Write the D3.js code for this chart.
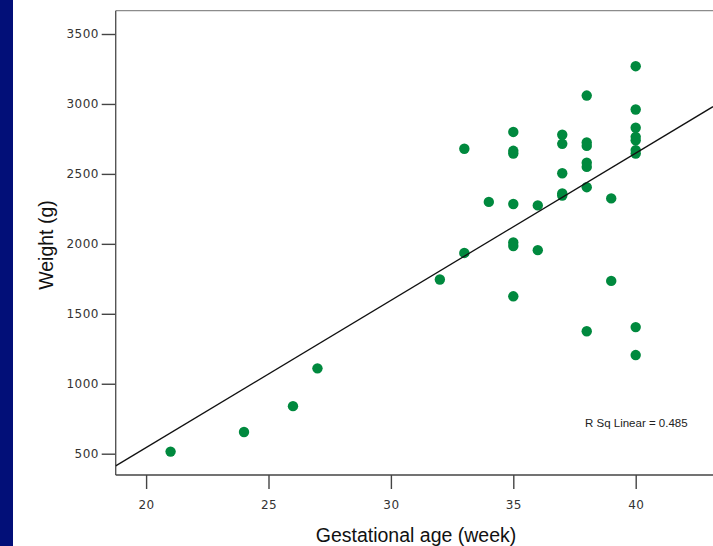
<!DOCTYPE html>
<html>
<head>
<meta charset="utf-8">
<script src="https://cdn.jsdelivr.net/npm/d3@7"></script>
<style>
  html, body { margin: 0; padding: 0; background: #ffffff; }
  svg { display: block; }
</style>
</head>
<body>
<svg id="chart" width="713" height="546"></svg>
<script>
// Data
const gestationalWeeks = [21, 24, 26, 27, 32, 33, 33, 34,
  35, 35, 35, 35, 35, 35, 35,
  36, 36,
  37, 37, 37, 37, 37,
  38, 38, 38, 38, 38, 38, 38,
  39, 39,
  40, 40, 40, 40, 40, 40, 40, 40, 40];
const weightsGrams = [515, 655, 840, 1110, 1745, 2680, 1935, 2300,
  2800, 2665, 2645, 2285, 2010, 1985, 1625,
  2275, 1955,
  2780, 2715, 2505, 2360, 2345,
  3060, 2725, 2700, 2580, 2550, 2405, 1375,
  2325, 1735,
  3270, 2960, 2830, 2765, 2740, 2670, 2645, 1405, 1205];
const xTickValues = [20, 25, 30, 35, 40];
const yTickValues = [500, 1000, 1500, 2000, 2500, 3000, 3500];
const xTitle = "Gestational age (week)";
const yTitle = "Weight (g)";
const rSqLabel = "R Sq Linear = 0.485";

const svg = d3.select("#chart");

// navy left strip
svg.append("rect").attr("x", 0).attr("y", 0).attr("width", 13).attr("height", 546).attr("fill", "#020f78");

const plotLeft = 115.7, plotRight = 713, plotTop = 10.7, plotBottom = 475;

const x = d3.scaleLinear().domain([20, 40]).range([146.1, 635.7]);
const y = d3.scaleLinear().domain([500, 3500]).range([453.7, 34]);

// frame top line
svg.append("line").attr("x1", plotLeft).attr("x2", plotRight).attr("y1", plotTop).attr("y2", plotTop)
  .attr("stroke", "#8c8c8c").attr("stroke-width", 1.2);

// axes
const yAxis = d3.axisLeft(y).tickValues(yTickValues).tickSize(14).tickPadding(3).tickFormat(d3.format("d"));
const gy = svg.append("g").attr("transform", `translate(${plotLeft},0)`).call(yAxis);
gy.select(".domain").remove();
gy.append("line").attr("x1", 0).attr("x2", 0).attr("y1", plotTop).attr("y2", plotBottom)
  .attr("stroke", "#555").attr("stroke-width", 1.4);
gy.selectAll(".tick line").attr("stroke", "#444").attr("stroke-width", 1.4);
gy.selectAll(".tick text").attr("fill", "#333").attr("font-family", "DejaVu Sans, sans-serif")
  .attr("font-size", 12).attr("letter-spacing", 0.4);

const xAxis = d3.axisBottom(x).tickValues(xTickValues).tickSize(14).tickPadding(11).tickFormat(d3.format("d"));
const gx = svg.append("g").attr("transform", `translate(0,${plotBottom})`).call(xAxis);
gx.select(".domain").remove();
gx.append("line").attr("x1", plotLeft).attr("x2", plotRight).attr("y1", 0).attr("y2", 0)
  .attr("stroke", "#444").attr("stroke-width", 1.4);
gx.selectAll(".tick line").attr("stroke", "#444").attr("stroke-width", 1.4);
gx.selectAll(".tick text").attr("fill", "#333").attr("font-family", "DejaVu Sans, sans-serif")
  .attr("font-size", 12).attr("letter-spacing", 0.4);

// clip for plot area
svg.append("clipPath").attr("id", "plotClip").append("rect")
  .attr("x", plotLeft).attr("y", plotTop).attr("width", plotRight - plotLeft).attr("height", plotBottom - plotTop);

// linear regression fit
const n = gestationalWeeks.length;
const mx = d3.mean(gestationalWeeks), my = d3.mean(weightsGrams);
let sxy = 0, sxx = 0;
for (let i = 0; i < n; i++) {
  sxy += (gestationalWeeks[i] - mx) * (weightsGrams[i] - my);
  sxx += (gestationalWeeks[i] - mx) ** 2;
}
const slope = sxy / sxx, intercept = my - slope * mx;
const x0 = x.invert(plotLeft), x1 = x.invert(plotRight);

const points = d3.range(n).map(i => ({ w: gestationalWeeks[i], g: weightsGrams[i] }));
svg.append("g").attr("clip-path", "url(#plotClip)")
  .selectAll("circle").data(points).join("circle")
  .attr("cx", d => x(d.w)).attr("cy", d => y(d.g)).attr("r", 5.2)
  .attr("fill", "#00893e");

svg.append("g").attr("clip-path", "url(#plotClip)").append("line")
  .attr("x1", x(x0)).attr("y1", y(intercept + slope * x0))
  .attr("x2", x(x1)).attr("y2", y(intercept + slope * x1))
  .attr("stroke", "#111").attr("stroke-width", 1.3);

// R squared label
svg.append("text").attr("x", 585).attr("y", 427).text(rSqLabel)
  .attr("font-family", "Liberation Sans, Arial, sans-serif").attr("font-size", 11.5)
  .attr("letter-spacing", 0).attr("fill", "#222");

// axis titles
svg.append("text").attr("x", 416).attr("y", 542).attr("text-anchor", "middle").text(xTitle)
  .attr("font-family", "Liberation Sans, Arial, sans-serif").attr("font-size", 19.5).attr("fill", "#111");
svg.append("text").attr("transform", "translate(53,245) rotate(-90)").attr("text-anchor", "middle").text(yTitle)
  .attr("font-family", "Liberation Sans, Arial, sans-serif").attr("font-size", 19.5).attr("fill", "#111");
</script>
</body>
</html>
